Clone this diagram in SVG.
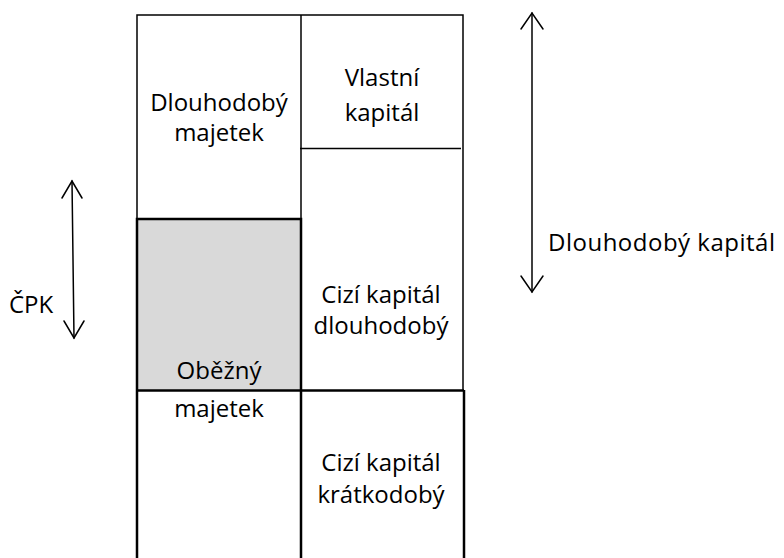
<svg xmlns="http://www.w3.org/2000/svg" width="784" height="558" viewBox="0 0 784 558">
<style>
.t{font-family:"Open Sans","Noto Sans","Liberation Sans",sans-serif;font-size:24px;fill:#000;text-anchor:middle}
.l{stroke:#000;fill:none;stroke-width:1.5}
.b{stroke:#000;fill:none;stroke-width:2.5}
.a{stroke:#000;fill:none;stroke-width:1.5;stroke-linecap:round}
</style>
<rect width="784" height="558" fill="#fff"/>
<g id="dlouhodoby-majetek">
<path class="l" d="M137,558 V15 H463 V390"/>
<text class="t" x="219" y="111">Dlouhodobý</text>
<text class="t" x="219" y="141">majetek</text>
</g>
<g id="obezny-majetek">
<rect x="137" y="219" width="164" height="171" fill="#d9d9d9"/>
<path class="b" d="M137,558 V219 H301 V558"/>
<path class="b" d="M137,390.5 H464"/>
<text class="t" x="219" y="379">Oběžný</text>
<text class="t" x="219" y="417">majetek</text>
</g>
<g id="vlastni-kapital">
<path class="l" d="M301,15 V219"/>
<path class="l" d="M300,148.5 H461"/>
<text class="t" x="382" y="86">Vlastní</text>
<text class="t" x="382" y="121">kapitál</text>
</g>
<g id="cizi-kapital-dlouhodoby">
<text class="t" x="381" y="303">Cizí kapitál</text>
<text class="t" x="381" y="334">dlouhodobý</text>
</g>
<g id="cizi-kapital-kratkodoby">
<path class="b" d="M464,390 V558"/>
<text class="t" x="381" y="471">Cizí kapitál</text>
<text class="t" x="381" y="503">krátkodobý</text>
</g>
<g id="connectors">
<path class="a" d="M72,181 L74,338"/>
<path class="a" d="M62,198 L72,181 L82,198"/>
<path class="a" d="M64,321 L74,338 L84,321"/>
<path class="a" d="M532,13 V292"/>
<path class="a" d="M521,29 L532,13 L543,29"/>
<path class="a" d="M521,276 L532,292 L543,276"/>
</g>
<g id="labels">
<text class="t" x="9" y="313" style="text-anchor:start">ČPK</text>
<text class="t" x="548" y="251" style="text-anchor:start;letter-spacing:0.5px">Dlouhodobý kapitál</text>
</g>
</svg>
